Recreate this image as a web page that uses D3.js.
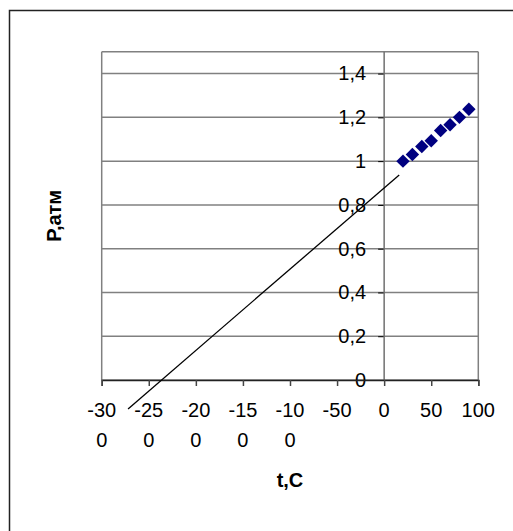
<!DOCTYPE html>
<html>
<head>
<meta charset="utf-8">
<script src="https://cdn.jsdelivr.net/npm/d3@7"></script>
<style>
body{margin:0;background:#fff;}
svg text{font-family:"Liberation Sans",Arial,sans-serif;}
</style>
</head>
<body>
<svg id="chart"></svg>
<script>
// measured points
var temps=[20,30,40,50,60,70,80,90];
var press=[1.0,1.03,1.067,1.093,1.14,1.166,1.2,1.237];
// trend line end points (extrapolated to the left)
var trendT=[-272,16];
var trendP=[-0.132,0.937];
var xTicks=[-300,-250,-200,-150,-100,-50,0,50,100];
var yTicks=[0,0.2,0.4,0.6,0.8,1,1.2,1.4];

var width=513;
var height=531;

var svg=d3.select("#chart")
  .attr("width",width)
  .attr("height",height)

// chart border (runs off the picture right and bottom)
svg.append("rect")
  .attr("x",9.5).attr("y",10.5)
  .attr("width",540).attr("height",560)
  .attr("fill","none")
  .attr("stroke","#222")
  .attr("stroke-width",1.5);

var x=d3.scaleLinear().domain([-300,100]).range([101.7,478.3]);
var y=d3.scaleLinear().domain([0,1.5]).range([380,51.7]);

// gridlines
svg.append("g")
  .selectAll("line")
  .data(yTicks.concat([1.5]))
  .enter()
  .append("line")
  .attr("x1",x(-300)).attr("x2",x(100))
  .attr("y1",function(d){return y(d);})
  .attr("y2",function(d){return y(d);})
  .attr("stroke","#808080")
  .attr("stroke-width",1.5);

// plot area sides
svg.append("line")
  .attr("x1",x(-300)).attr("x2",x(-300))
  .attr("y1",y(0)).attr("y2",y(1.5))
  .attr("stroke","#808080").attr("stroke-width",1.5);
svg.append("line")
  .attr("x1",x(100)).attr("x2",x(100))
  .attr("y1",y(0)).attr("y2",y(1.5))
  .attr("stroke","#808080").attr("stroke-width",1.5);

// y axis at t=0
var yAxis=d3.axisLeft(y)
  .tickValues(yTicks)
  .tickSize(6)
  .tickPadding(12)
  .tickFormat(function(d){return String(d).replace(".",",");});
var gy=svg.append("g")
  .attr("transform","translate("+x(0)+",0)")
  .call(yAxis);
gy.select(".domain").remove();
gy.append("line")
  .attr("y1",y(0)).attr("y2",y(1.5))
  .attr("stroke","#707070").attr("stroke-width",1.5);
gy.selectAll(".tick line").attr("stroke","#000").attr("stroke-width",1);
gy.selectAll(".tick text")
  .attr("font-size",20)
  .attr("fill","#000")
  .attr("font-family","Liberation Sans, Arial, sans-serif");

// x axis at P=0
var xAxis=d3.axisBottom(x)
  .tickValues(xTicks)
  .tickSize(6)
  .tickFormat("");
var gx=svg.append("g")
  .attr("transform","translate(0,"+y(0)+")")
  .call(xAxis);
gx.select(".domain").attr("stroke","#222").attr("stroke-width",1.5);
gx.selectAll(".tick line").attr("stroke","#444").attr("stroke-width",1.5);

// wrapped tick labels like excel
var lab=svg.append("g").selectAll("text")
  .data(xTicks)
  .enter()
  .append("text")
  .attr("x",function(d){return x(d);})
  .attr("y",417)
  .attr("text-anchor","middle")
  .attr("font-size",20)
  .attr("fill","#000");
lab.each(function(d){
  var s=String(d);
  var t=d3.select(this);
  if(s.length>3){
    t.append("tspan").attr("x",x(d)).text(s.slice(0,3));
    t.append("tspan").attr("x",x(d)).attr("dy",30).text(s.slice(3));
  } else {
    t.text(s);
  }
});

// trend line
var pts=trendT.map(function(t,i){return [t,trendP[i]];});
svg.append("path")
  .datum(pts)
  .attr("d",d3.line().x(function(d){return x(d[0]);}).y(function(d){return y(d[1]);}))
  .attr("stroke","#000")
  .attr("stroke-width",1.3)
  .attr("fill","none");

// points
svg.append("g").selectAll("path")
  .data(temps)
  .enter()
  .append("path")
  .attr("d",d3.symbol().type(d3.symbolSquare).size(90))
  .attr("transform",function(d,i){return "translate("+x(d)+","+y(press[i])+") rotate(45)";})
  .attr("fill","#000080");

// axis titles
svg.append("text")
  .attr("x",(x(-300)+x(100))/2)
  .attr("y",487)
  .attr("text-anchor","middle")
  .attr("font-size",20)
  .attr("font-weight","bold")
  .text("t,C");

svg.append("text")
  .attr("transform","translate(61,"+((y(0)+y(1.5))/2)+") rotate(-90)")
  .attr("text-anchor","middle")
  .attr("font-size",20)
  .attr("font-weight","bold")
  .text("P,атм");
</script>
</body>
</html>
